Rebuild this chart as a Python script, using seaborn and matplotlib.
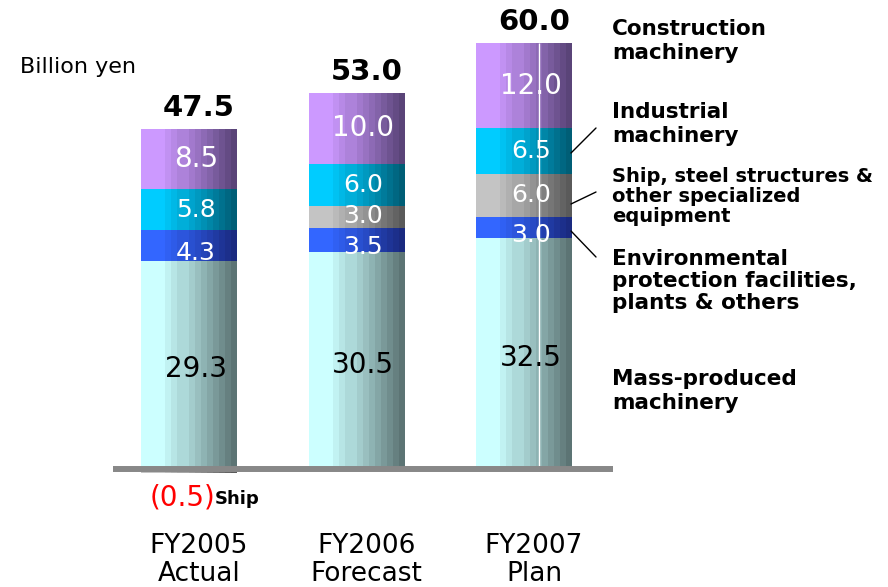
import numpy as np
import pandas as pd
import matplotlib
matplotlib.use("Agg")
import matplotlib.pyplot as plt
from matplotlib.colors import LinearSegmentedColormap
from matplotlib.lines import Line2D
import seaborn as sns

# ---------------------- data ----------------------
years = ["FY2005\nActual", "FY2006\nForecast", "FY2007\nPlan"]
segments = ["Mass-produced machinery",
            "Environmental protection facilities, plants & others",
            "Ship, steel structures & other specialized equipment",
            "Industrial machinery",
            "Construction machinery"]
mass = [29.3, 30.5, 32.5]
environmental = [4.3, 3.5, 3.0]
ship = [-0.5, 3.0, 6.0]
industrial = [5.8, 6.0, 6.5]
construction = [8.5, 10.0, 12.0]
totals = [47.5, 53.0, 60.0]

# gradient end colours (light left -> dark right) for each segment
seg_colors = [("#CCFFFF", "#5C7474"),
              ("#3366FF", "#1A2A80"),
              ("#C4C4C4", "#5A5A5A"),
              ("#00CCFF", "#005E76"),
              ("#CC99FF", "#5A4478")]
label_colors = ["black", "white", "white", "white", "white"]
label_sizes = [20, 18, 18, 18, 20]
# small vertical nudges so the thin segments' labels don't collide
label_nudge = [-0.6, -1.0, 0.15, 0.0, 0.0]

# ---------------------- plot setup ----------------------
sns.set_theme(style="white")
plt.rcParams["font.family"] = ["DejaVu Sans"]

fig = plt.figure(figsize=(8.88, 5.87), dpi=100)
ax = fig.add_axes([0, 0, 1, 1])

values = [mass, environmental, ship, industrial, construction]
pos_bottom = np.zeros(len(years))
neg_bottom = np.zeros(len(years))
bar_width = 0.573

seg_patches = []
for k, (seg, vals) in enumerate(zip(segments, values)):
    vals = np.array(vals)
    bottoms = np.where(vals >= 0, pos_bottom, neg_bottom)
    df = pd.DataFrame({"year": years, "value": vals})
    n_before = len(ax.patches)
    sns.barplot(data=df, x="year", y="value", order=years, ax=ax,
                width=bar_width, errorbar=None, bottom=bottoms,
                color=seg_colors[k][0], linewidth=0, edgecolor="none")
    seg_patches.append((seg, vals, bottoms, ax.patches[n_before:]))
    pos_bottom = pos_bottom + np.where(vals >= 0, vals, 0)
    neg_bottom = neg_bottom + np.where(vals < 0, vals, 0)

# stepped horizontal gradient on every bar, like the original shading
steps = np.linspace(0, 1, 16)
grad = np.clip((steps - 0.22) / 0.78, 0, 1)
grad = np.round(grad * 11) / 11
for k, (seg, vals, bottoms, patches) in enumerate(seg_patches):
    cmap = LinearSegmentedColormap.from_list(seg, seg_colors[k])
    for p in patches:
        x0, y0 = p.get_x(), p.get_y()
        w, h = p.get_width(), p.get_height()
        im = ax.imshow(grad[np.newaxis, :], cmap=cmap, vmin=0, vmax=1,
                       extent=[x0, x0 + w, min(y0, y0 + h), max(y0, y0 + h)],
                       aspect="auto", interpolation="nearest", zorder=2)
        im.set_clip_path(p)

# white hairline running through the FY2007 bar
ax.vlines(2 + 0.09, 0, totals[2], color="white", lw=1.0, zorder=3)

# baseline
ax.plot([-0.455, 2.53], [0, 0], color="#888888", lw=4.3,
        solid_capstyle="butt", zorder=4)

# ---------------------- labels ----------------------
for k, (seg, vals, bottoms, patches) in enumerate(seg_patches):
    for i, v in enumerate(vals):
        if v <= 0:
            continue
        ax.text(i + 0.04, bottoms[i] + v / 2 + label_nudge[k], f"{v:.1f}",
                ha="center", va="center", fontsize=label_sizes[k],
                color=label_colors[k], zorder=6)

for i, t in enumerate(totals):
    ax.text(i + 0.06, pos_bottom[i] + 2.9, f"{t:.1f}", ha="center",
            va="center", fontsize=21, fontweight="bold", color="black",
            zorder=6)

# negative ship value for FY2005
ax.text(0 - 0.04, -3.95, f"({abs(ship[0]):.1f})", ha="center", va="center",
        fontsize=20, color="red", zorder=6)
ax.text(0.155, -4.2, "Ship", ha="left", va="center", fontsize=13,
        fontweight="bold", color="black", zorder=6)

for i, yr in enumerate(years):
    ax.text(i + 0.06, -12.8, yr, ha="center", va="center", fontsize=19,
            linespacing=1.1, color="black")

# ---------------------- axes ----------------------
ax.set_xlim(-189 / 167.5, (888 - 189) / 167.5)
ax.set_ylim(-(587 - 469) / 7.1, 469 / 7.1)
ax.axis("off")

# ---------------------- right-hand captions ----------------------
W, H = 888, 587
fig.text(20 / W, 1 - 67 / H, "Billion yen", ha="left", va="center",
         fontsize=16, color="black")
captions = [("Construction\nmachinery", 41, 15.5, 1.25),
            ("Industrial\nmachinery", 124, 15.5, 1.25),
            ("Ship, steel structures &\nother specialized\nequipment", 196.5, 14, 1.1),
            ("Environmental\nprotection facilities,\nplants & others", 281, 15.5, 1.15),
            ("Mass-produced\nmachinery", 391, 15.5, 1.25)]
for txt, ypix, fs, ls in captions:
    fig.text(612 / W, 1 - ypix / H, txt, ha="left", va="center", fontsize=fs,
             fontweight="bold", linespacing=ls, color="black")

# leader lines
for (xa, ya), (xb, yb) in [((571, 153), (596, 128)),
                           ((571, 204), (596, 192)),
                           ((571, 231), (596, 257))]:
    fig.add_artist(Line2D([xa / W, xb / W], [1 - ya / H, 1 - yb / H],
                          color="black", lw=1.0, transform=fig.transFigure))

plt.savefig("out.png", dpi=100)
